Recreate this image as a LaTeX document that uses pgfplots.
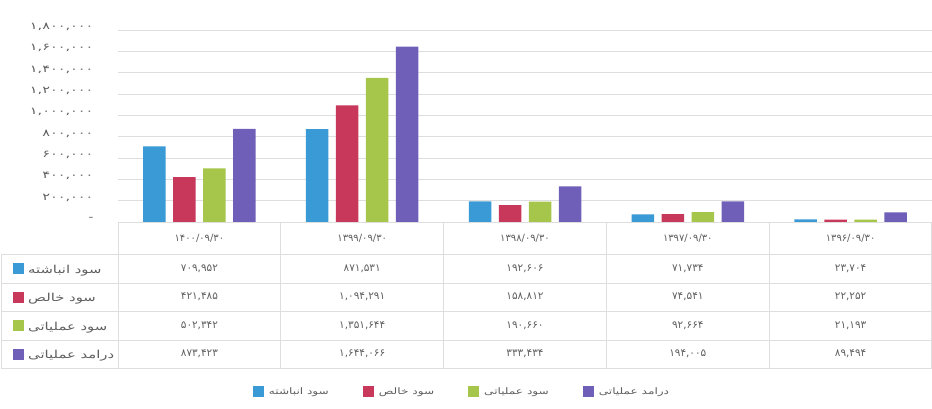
\documentclass[border=0pt]{standalone}
\usepackage{fontspec}
\usepackage{pgfplots}
\pgfplotsset{compat=1.18}
\setmainfont{DejaVu Sans}
\newfontfamily\fa[Script=Arabic]{DejaVu Sans}
\newfontfamily\faw[Script=Arabic,FakeStretch=1.35]{DejaVu Sans}
\newfontfamily\fat[Script=Arabic,FakeStretch=1.45]{DejaVu Sans}
\TeXXeTstate=1
\definecolor{cA}{RGB}{58,154,214}
\definecolor{cB}{RGB}{200,56,90}
\definecolor{cC}{RGB}{165,198,74}
\definecolor{cD}{RGB}{111,95,184}
\definecolor{txt}{RGB}{95,95,95}
\definecolor{grd}{RGB}{222,222,222}
\pgfplotsset{sqleg/.style={legend image code/.code={\fill[##1,draw=none] (0bp,-5.5bp) rectangle (11bp,5.5bp);}}}
\begin{document}
\begin{tikzpicture}[x=1bp,y=1bp]
\useasboundingbox (0,0) rectangle (932,408);
\begin{axis}[
  at={(118bp,186bp)}, anchor=south west,
  scale only axis, width=814bp, height=192bp,
  xmin=-0.5, xmax=4.5, ymin=0, ymax=1800000,
  ybar=7.5bp, bar width=22.5bp,
  xtick=\empty,
  ytick={0,200000,400000,600000,800000,1000000,1200000,1400000,1600000,1800000},
  yticklabels={{-\hspace{12bp}},{۲۰۰,۰۰۰},{۴۰۰,۰۰۰},{۶۰۰,۰۰۰},{۸۰۰,۰۰۰},{۱,۰۰۰,۰۰۰},{۱,۲۰۰,۰۰۰},{۱,۴۰۰,۰۰۰},{۱,۶۰۰,۰۰۰},{۱,۸۰۰,۰۰۰}},
  scaled y ticks=false,
  yticklabel style={font=\fat\fontsize{10}{11}\selectfont, text=txt, xshift=-21bp, yshift=3bp},
  ymajorgrids, grid style={grd, line width=0.8bp},
  axis line style={draw=none}, tick style={draw=none},
  clip=false,
  legend columns=4,
  legend style={at={(0.4226,-0.885)}, anchor=center, draw=none, fill=none,
    font=\faw\fontsize{9}{10}\selectfont, text=txt,
    /tikz/every even column/.append style={column sep=32bp},
    /tikz/every odd column/.append style={column sep=3bp}},
]
\addplot[fill=cA, draw=none, sqleg] coordinates {(0,709952) (1,871531) (2,192606) (3,71734) (4,23704)};
\addlegendentry{\beginR سود انباشته\endR}
\addplot[fill=cB, draw=none, sqleg] coordinates {(0,421485) (1,1094291) (2,158812) (3,74541) (4,22252)};
\addlegendentry{\beginR سود خالص\endR}
\addplot[fill=cC, draw=none, sqleg] coordinates {(0,502342) (1,1351644) (2,190660) (3,92664) (4,21193)};
\addlegendentry{\beginR سود عملیاتی\endR}
\addplot[fill=cD, draw=none, sqleg] coordinates {(0,873423) (1,1644066) (2,333434) (3,194005) (4,89494)};
\addlegendentry{\beginR درامد عملیاتی\endR}
\end{axis}
% data table
\begin{scope}[grd, line width=0.8bp]
\draw (118,186) -- (932,186);
\foreach \yy in {154,125,97,68,40} \draw (1,\yy) -- (932,\yy);
\foreach \xx in {118,280.8,443.6,606.4,769.2,931.5} \draw (\xx,186) -- (\xx,40);
\draw (1,154) -- (1,40);
\end{scope}
\begin{scope}[every node/.style={font=\fa\fontsize{10}{11}\selectfont, text=txt, inner sep=0pt}]
\node at (199.4,170) {۱۴۰۰/۰۹/۳۰};
\node at (362.2,170) {۱۳۹۹/۰۹/۳۰};
\node at (525,170) {۱۳۹۸/۰۹/۳۰};
\node at (687.8,170) {۱۳۹۷/۰۹/۳۰};
\node at (850.6,170) {۱۳۹۶/۰۹/۳۰};
\end{scope}
\begin{scope}[every node/.style={font=\fa\fontsize{10.5}{11}\selectfont, text=txt, inner sep=0pt}]
% row 1
\node at (199.4,139.5) {۷۰۹,۹۵۲};
\node at (362.2,139.5) {۸۷۱,۵۳۱};
\node at (525,139.5) {۱۹۲,۶۰۶};
\node at (687.8,139.5) {۷۱,۷۳۴};
\node at (850.6,139.5) {۲۳,۷۰۴};
% row 2
\node at (199.4,111) {۴۲۱,۴۸۵};
\node at (362.2,111) {۱,۰۹۴,۲۹۱};
\node at (525,111) {۱۵۸,۸۱۲};
\node at (687.8,111) {۷۴,۵۴۱};
\node at (850.6,111) {۲۲,۲۵۲};
% row 3
\node at (199.4,82.5) {۵۰۲,۳۴۲};
\node at (362.2,82.5) {۱,۳۵۱,۶۴۴};
\node at (525,82.5) {۱۹۰,۶۶۰};
\node at (687.8,82.5) {۹۲,۶۶۴};
\node at (850.6,82.5) {۲۱,۱۹۳};
% row 4
\node at (199.4,54) {۸۷۳,۴۲۳};
\node at (362.2,54) {۱,۶۴۴,۰۶۶};
\node at (525,54) {۳۳۳,۴۳۴};
\node at (687.8,54) {۱۹۴,۰۰۵};
\node at (850.6,54) {۸۹,۴۹۴};
\end{scope}
\begin{scope}[every node/.style={font=\faw\fontsize{11}{12}\selectfont, text=txt, inner sep=0pt, anchor=west, yshift=-2bp}]
\fill[cA] (13,134) rectangle (24,145);
\node at (28,139.5) {\beginR سود انباشته\endR};
\fill[cB] (13,105.5) rectangle (24,116.5);
\node at (28,111) {\beginR سود خالص\endR};
\fill[cC] (13,77) rectangle (24,88);
\node at (28,82.5) {\beginR سود عملیاتی\endR};
\fill[cD] (13,48.5) rectangle (24,59.5);
\node at (28,54) {\beginR درامد عملیاتی\endR};
\end{scope}
\end{tikzpicture}
\end{document}
